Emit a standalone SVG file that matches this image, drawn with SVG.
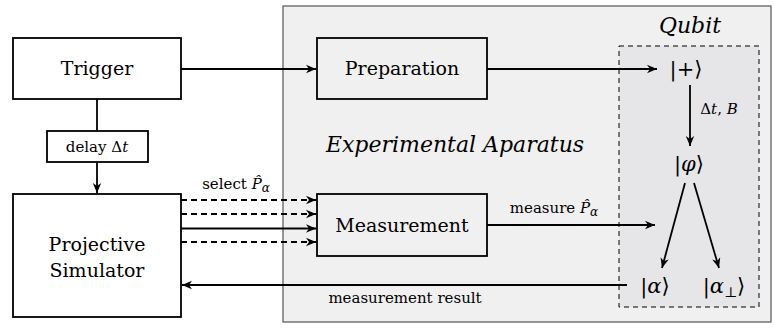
<svg xmlns="http://www.w3.org/2000/svg" width="774" height="333" viewBox="0 0 774 333">
  <defs>
    <marker id="arr" viewBox="-11 -5 13 10" refX="0" refY="0" markerWidth="13" markerHeight="10" markerUnits="userSpaceOnUse" orient="auto">
      <path d="M0,0 L-10,-4.2 L-7,0 L-10,4.2 Z" fill="#000"/>
    </marker>
  </defs>
  <style>
    .box { fill: #fff; stroke: #000; stroke-width: 1.8; }
    .inbox { fill: #f0f0f0; stroke: #000; stroke-width: 1.8; }
    .t { font-family: "DejaVu Serif", "Liberation Serif", serif; fill: #000; text-anchor: middle; }
    .big { font-size: 19px; }
    .ket { font-size: 21px; }
    .small { font-size: 15px; }
    .it { font-style: italic; }
    .m { font-family: "DejaVu Serif", "DejaVu Sans", serif; }
    .ln { fill: none; stroke: #000; stroke-width: 1.8; }
    .dash { stroke-dasharray: 6 4; }
  </style>

  <!-- experimental apparatus frame -->
  <g id="apparatus">
    <rect x="283" y="6" width="488" height="316" fill="#f0f0f0" stroke="#555" stroke-width="1.2"/>
    <text class="t it" x="455" y="152" font-size="22">Experimental Aparatus</text>
  </g>

  <!-- qubit region -->
  <g id="qubit">
    <rect x="619" y="46" width="140" height="261" fill="#e6e6e9" stroke="#000" stroke-width="1" stroke-dasharray="5 4"/>
    <text class="t it" x="690" y="33" font-size="22">Qubit</text>
  </g>

  <g id="trigger">
    <rect class="box" x="13" y="38" width="168" height="61"/>
    <text class="t big" x="97" y="75">Trigger</text>
  </g>

  <g id="delay">
    <rect class="box" x="47" y="131" width="101" height="31"/>
    <text class="t small" x="97" y="152">delay Δ<tspan class="it">t</tspan></text>
  </g>

  <g id="simulator">
    <rect class="box" x="13" y="194" width="168" height="123"/>
    <text class="t big" x="97" y="251">Projective</text>
    <text class="t big" x="97" y="277">Simulator</text>
  </g>

  <g id="preparation">
    <rect class="inbox" x="317" y="38" width="170" height="61"/>
    <text class="t big" x="402" y="75">Preparation</text>
  </g>

  <g id="measurement">
    <rect class="inbox" x="317" y="194" width="170" height="62"/>
    <text class="t big" x="402" y="232">Measurement</text>
  </g>

  <!-- quantum states -->
  <g id="plus">
    <text class="t m ket" x="686" y="76">|+⟩</text>
  </g>
  <g id="phi">
    <text class="t m ket" x="689" y="171">|<tspan class="it">φ</tspan>⟩</text>
  </g>
  <g id="alpha">
    <text class="t m ket" x="655" y="293">|<tspan class="it">α</tspan>⟩</text>
  </g>
  <g id="alpha-perp">
    <text class="t m ket" x="724" y="293">|<tspan class="it">α</tspan><tspan font-size="14" dy="4">⊥</tspan><tspan dy="-4">⟩</tspan></text>
  </g>

  <!-- connectors -->
  <g id="connectors">
    <line class="ln" x1="181" y1="69" x2="316" y2="69" marker-end="url(#arr)"/>
    <line class="ln" x1="97" y1="99" x2="97" y2="131"/>
    <line class="ln" x1="97" y1="162" x2="97" y2="193" marker-end="url(#arr)"/>

    <line class="ln dash" x1="181" y1="200" x2="316" y2="200" marker-end="url(#arr)"/>
    <line class="ln dash" x1="181" y1="214" x2="316" y2="214" marker-end="url(#arr)"/>
    <line class="ln" x1="181" y1="228.5" x2="316" y2="228.5" marker-end="url(#arr)"/>
    <line class="ln dash" x1="181" y1="242" x2="316" y2="242" marker-end="url(#arr)"/>
    <text class="t small" x="236" y="189">select <tspan class="it">P̂</tspan><tspan font-size="12" dy="3" class="it">α</tspan></text>

    <line class="ln" x1="487" y1="69" x2="657" y2="69" marker-end="url(#arr)"/>
    <line class="ln" x1="690" y1="85" x2="690" y2="146" marker-end="url(#arr)"/>
    <text class="t small" x="719" y="114">Δ<tspan class="it">t</tspan>, <tspan class="it">B</tspan></text>

    <line class="ln" x1="487" y1="225" x2="655" y2="225" marker-end="url(#arr)"/>
    <text class="t small" x="554" y="213">measure <tspan class="it">P̂</tspan><tspan font-size="12" dy="3" class="it">α</tspan></text>

    <line class="ln" x1="685" y1="183" x2="662" y2="268" marker-end="url(#arr)"/>
    <line class="ln" x1="694" y1="183" x2="719" y2="268" marker-end="url(#arr)"/>

    <line class="ln" x1="627" y1="285" x2="182" y2="285" marker-end="url(#arr)"/>
    <text class="t small" x="405" y="303">measurement result</text>
  </g>
</svg>
